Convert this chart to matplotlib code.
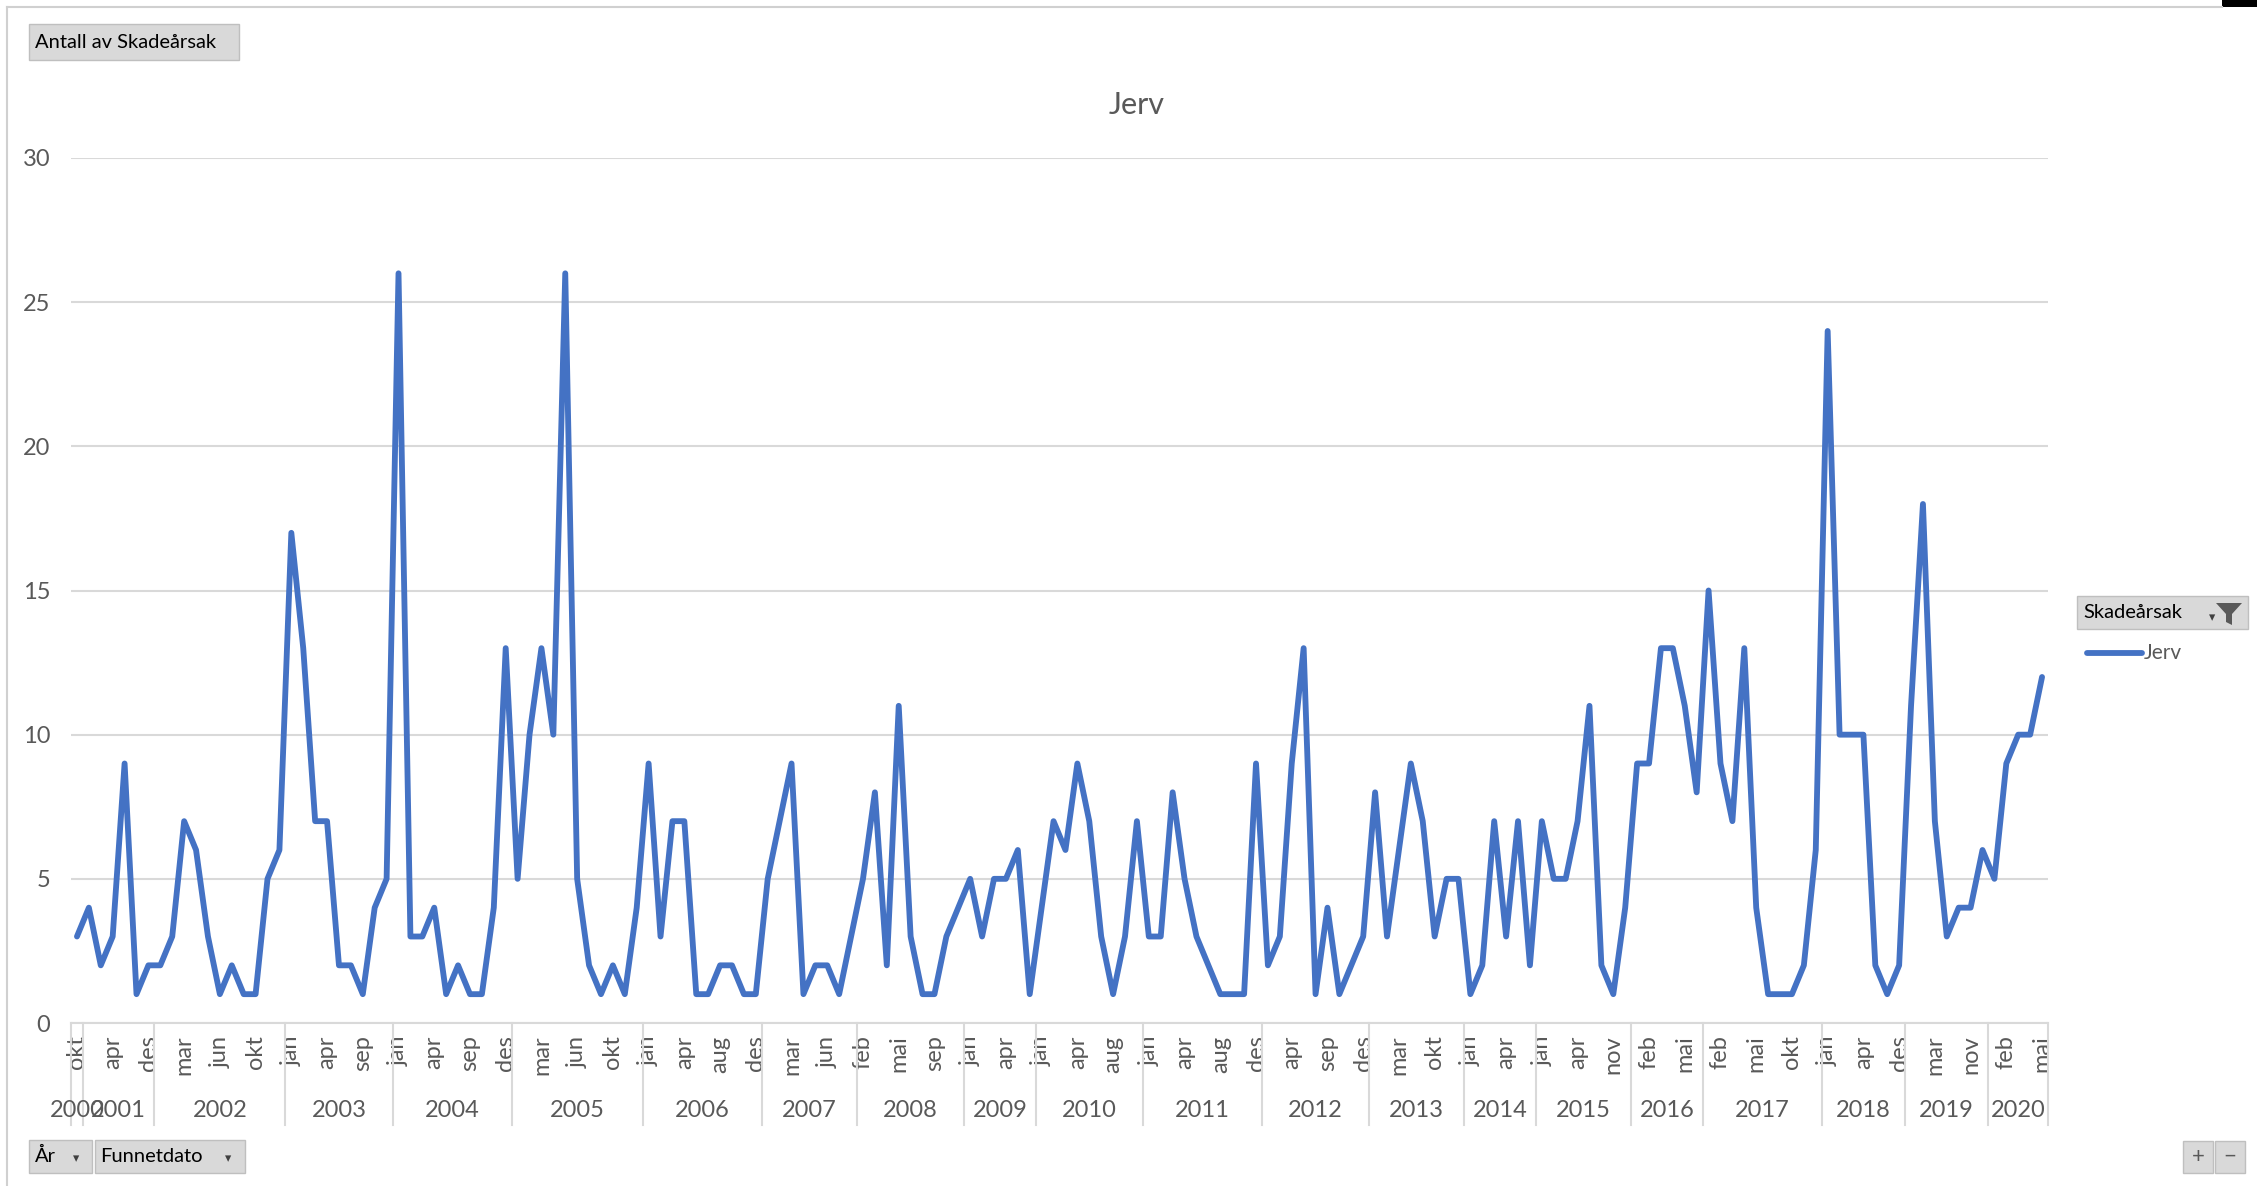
import numpy as np
import matplotlib.pyplot as plt
from matplotlib.patches import Rectangle, Polygon

plt.rcParams['font.family'] = ['Lato', 'DejaVu Sans']

# monthly counts (pivot, only months with data)
values = [3, 4, 2, 3, 9, 1, 2, 2, 3, 7,
          6, 3, 1, 2, 1, 1, 5, 6, 17, 13,
          7, 7, 2, 2, 1, 4, 5, 26, 3, 3,
          4, 1, 2, 1, 1, 4, 13, 5, 10, 13,
          10, 26, 5, 2, 1, 2, 1, 4, 9, 3,
          7, 7, 1, 1, 2, 2, 1, 1, 5, 7,
          9, 1, 2, 2, 1, 3, 5, 8, 2, 11,
          3, 1, 1, 3, 4, 5, 3, 5, 5, 6,
          1, 4, 7, 6, 9, 7, 3, 1, 3, 7,
          3, 3, 8, 5, 3, 2, 1, 1, 1, 9,
          2, 3, 9, 13, 1, 4, 1, 2, 3, 8,
          3, 6, 9, 7, 3, 5, 5, 1, 2, 7,
          3, 7, 2, 7, 5, 5, 7, 11, 2, 1,
          4, 9, 9, 13, 13, 11, 8, 15, 9, 7,
          13, 4, 1, 1, 1, 2, 6, 24, 10, 10,
          10, 2, 1, 2, 11, 18, 7, 3, 4, 4,
          6, 5, 9, 10, 10, 12]

years = ['2000', '2001', '2002', '2003', '2004', '2005', '2006', '2007', '2008', '2009',
         '2010', '2011', '2012', '2013', '2014', '2015', '2016', '2017', '2018', '2019', '2020']
year_counts = [1, 6, 11, 9, 10, 11, 10, 8, 9, 6, 9, 10, 9, 8, 6, 8, 6, 10, 7, 7, 5]

# month labels shown on every third category
month_labels = ['okt', 'apr', 'des', 'mar', 'jun', 'okt', 'jan', 'apr', 'sep',
                'jan', 'apr', 'sep', 'des', 'mar', 'jun', 'okt', 'jan', 'apr', 'aug', 'des',
                'mar', 'jun', 'feb', 'mai', 'sep', 'jan', 'apr', 'jan', 'apr', 'aug',
                'jan', 'apr', 'aug', 'des', 'apr', 'sep', 'des', 'mar', 'okt', 'jan', 'apr',
                'jan', 'apr', 'nov', 'feb', 'mai', 'feb', 'mai', 'okt', 'jan', 'apr', 'des',
                'mar', 'nov', 'feb', 'mai']

W, H = 2257, 1186
grey = '#595959'
grid = '#d9d9d9'
blue = '#4472C4'
btn = '#d9d9d9'

fig = plt.figure(figsize=(W / 100, H / 100), dpi=100)


def box(x0, y0, x1, y1, fc=btn, ec='#bfbfbf'):
    fig.add_artist(Rectangle((x0 / W, 1 - y1 / H), (x1 - x0) / W, (y1 - y0) / H,
                             transform=fig.transFigure, facecolor=fc, edgecolor=ec, lw=1))


def ftext(x, y, s, **kw):
    fig.text(x / W, 1 - y / H, s, **kw)


# chart outer border
fig.add_artist(plt.Line2D([7 / W, 2222 / W], [1 - 7 / H, 1 - 7 / H], color='#d0d0d0', lw=1.5))
fig.add_artist(plt.Line2D([7 / W, 7 / W], [1 - 7 / H, 0], color='#d0d0d0', lw=1.5))
fig.add_artist(Rectangle((2222 / W, 1 - 7 / H), 35 / W, 7 / H, transform=fig.transFigure,
                         facecolor='black', edgecolor='none'))

ax = fig.add_axes([71 / W, 163 / H, (2048 - 71) / W, 865 / H])
x = np.arange(len(values))
ax.plot(x, values, color=blue, lw=4.2, solid_joinstyle='round', solid_capstyle='round', zorder=3)
ax.set_xlim(-0.5, len(values) - 0.5)
ax.set_ylim(0, 30)
ax.set_yticks(range(0, 31, 5))
ax.yaxis.grid(True, color=grid, lw=1.5)
ax.axhline(0, color=grid, lw=1.5, clip_on=False)
ax.set_axisbelow(True)
for s in ax.spines.values():
    s.set_visible(False)
ax.tick_params(axis='y', length=0, pad=15, labelsize=17, labelcolor=grey)
ax.set_xticks(x[::3])
ax.set_xticklabels(month_labels, rotation=90, va='top', ha='center')
ax.tick_params(axis='x', length=0, pad=9, labelsize=17, labelcolor=grey)

# year groups under the month labels
trans = ax.get_xaxis_transform()
edges = np.concatenate([[0], np.cumsum(year_counts)]) - 0.5
for e in edges:
    ax.plot([e, e], [0, -0.118], transform=trans, color=grid, lw=1.5, clip_on=False)
for yr, a, b in zip(years, edges[:-1], edges[1:]):
    ax.text((a + b) / 2, -0.1006, yr, transform=trans, ha='center', va='center',
            fontsize=17, color=grey)

ftext(1137, 105, 'Jerv', ha='center', va='center', fontsize=22, color=grey)

# pivot field buttons
box(29, 24, 239, 60)
ftext(35, 43, 'Antall av Skadeårsak', ha='left', va='center', fontsize=14.5, color='black')

box(2077, 596, 2248, 629)
ftext(2083, 613, 'Skadeårsak', ha='left', va='center', fontsize=14.5, color='black')
ftext(2212, 617, '▾', ha='center', va='center', fontsize=9, color='#404040')
fig.add_artist(Polygon([(2216 / W, 1 - 603 / H), (2242 / W, 1 - 603 / H),
                        (2232 / W, 1 - 614 / H), (2232 / W, 1 - 625 / H),
                        (2226 / W, 1 - 622 / H), (2226 / W, 1 - 614 / H)],
                       closed=True, transform=fig.transFigure, facecolor='#595959',
                       edgecolor='none'))
fig.add_artist(plt.Line2D([2087 / W, 2142 / W], [1 - 653 / H, 1 - 653 / H], color=blue,
                          lw=4.2, solid_capstyle='round'))
ftext(2144, 653, 'Jerv', ha='left', va='center', fontsize=15, color=grey)

box(29, 1140, 92, 1173)
ftext(35, 1156, 'År', ha='left', va='center', fontsize=14.5, color='black')
ftext(76, 1158, '▾', ha='center', va='center', fontsize=9, color='#404040')
box(95, 1140, 245, 1173)
ftext(100, 1156, 'Funnetdato', ha='left', va='center', fontsize=14.5, color='black')
ftext(228, 1158, '▾', ha='center', va='center', fontsize=9, color='#404040')

box(2183, 1141, 2213, 1173)
box(2215, 1141, 2245, 1173)
ftext(2198, 1157, '+', ha='center', va='center', fontsize=16, color='#595959')
ftext(2230, 1157, '−', ha='center', va='center', fontsize=16, color='#595959')

fig.savefig('out.png', dpi=100, facecolor='white')
